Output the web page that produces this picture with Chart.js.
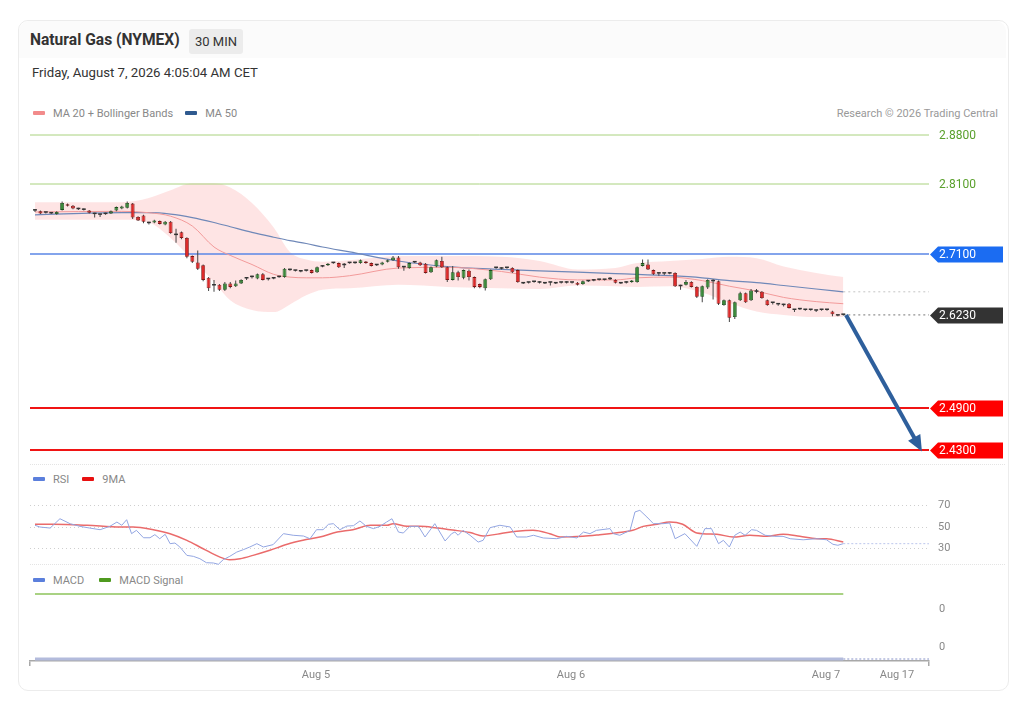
<!DOCTYPE html>
<html><head><meta charset="utf-8">
<title>Natural Gas (NYMEX)</title>
<script src="https://cdn.jsdelivr.net/npm/chart.js@4.4.1/dist/chart.umd.min.js"></script>
<style>
html,body{margin:0;padding:0;background:#fff;width:1027px;height:709px;overflow:hidden;font-family:Roboto,"Liberation Sans",Arial,sans-serif;}
.card{position:absolute;left:18px;top:20px;width:989px;height:669px;border:1px solid #ececec;border-radius:10px;}
.hdr{position:absolute;left:19px;top:21px;width:987px;height:37px;background:#fbfbfb;border-radius:10px 10px 0 0;}
.title{position:absolute;left:30px;top:31px;font-size:15.6px;font-weight:bold;color:#333;white-space:nowrap;}
.badge{position:absolute;left:189px;top:29px;width:54px;height:25px;background:#ececec;border-radius:3px;font-size:13px;color:#333;line-height:25px;text-align:center;}
.date{position:absolute;left:32px;top:65px;font-size:13.2px;color:#333;white-space:nowrap;}
.leg{position:absolute;font-size:11px;color:#888;white-space:nowrap;line-height:13px;}
.sw{display:inline-block;width:12px;height:4px;border-radius:1px;vertical-align:middle;margin-right:8px;position:relative;top:-1px}
canvas{position:absolute;left:0;}
.sep{position:absolute;left:30px;width:975px;border-top:1px dotted #e4e4e4;}
</style></head>
<body>
<div class="card"></div>
<div class="hdr"></div>
<div class="title">Natural Gas (NYMEX)</div>
<div class="badge">30 MIN</div>
<div class="date">Friday, August 7, 2026 4:05:04 AM CET</div>
<div class="leg" style="left:33px;top:107px"><span class="sw" style="background:#f28b8b"></span>MA 20 + Bollinger Bands<span class="sw" style="background:#2f5a8f;margin-left:12px"></span>MA 50</div>
<div class="leg" style="right:29px;top:107px;color:#999">Research © 2026 Trading Central</div>
<div class="sep" style="top:464px"></div>
<div class="leg" style="left:33px;top:473px"><span class="sw" style="background:#5b7fdc"></span>RSI<span class="sw" style="background:#e81010;margin-left:13px"></span>9MA</div>
<div class="sep" style="top:564px"></div>
<div class="leg" style="left:33px;top:574px"><span class="sw" style="background:#5b7fdc"></span>MACD<span class="sw" style="background:#4f9a1f;margin-left:15px"></span>MACD Signal</div>
<canvas id="cMain" width="1027" height="340" style="top:125px"></canvas>
<canvas id="cRsi" width="1027" height="87" style="top:485.5px"></canvas>
<canvas id="cMacd" width="1027" height="106" style="top:577px"></canvas>
<script>
// ---------- DATA ----------
const opens = [
2.772,2.771,2.769,2.769,2.767,2.773,2.781,2.779,2.775,2.774,
2.772,2.768,2.766,2.767,2.768,2.772,2.775,2.776,2.782,2.763,
2.765,2.755,2.755,2.757,2.752,2.756,2.738,2.741,2.733,2.707,
2.698,2.694,2.676,2.666,2.666,2.659,2.668,2.664,2.668,2.676,
2.677,2.675,2.681,2.674,2.675,2.677,2.677,2.688,2.686,2.686,
2.686,2.687,2.684,2.692,2.694,2.697,2.697,2.694,2.697,2.697,
2.697,2.699,2.697,2.694,2.695,2.699,2.701,2.705,2.691,2.690,
2.698,2.698,2.696,2.684,2.692,2.700,2.691,2.673,2.684,2.676,
2.686,2.677,2.667,2.661,2.674,2.690,2.690,2.690,2.690,2.687,
2.669,2.669,2.670,2.670,2.669,2.669,2.668,2.669,2.669,2.669,
2.669,2.667,2.671,2.672,2.673,2.673,2.674,2.673,2.668,2.669,
2.670,2.670,2.693,2.695,2.687,2.682,2.682,2.682,2.683,2.665,
2.666,2.670,2.663,2.649,2.662,2.672,2.671,2.637,2.644,2.620,
2.644,2.654,2.644,2.656,2.656,2.644,2.640,2.639,2.637,2.639,
2.630,2.631,2.630,2.630,2.629,2.630,2.630,2.628,2.622,2.623];
const highs = [
2.774,2.772,2.770,2.770,2.771,2.785,2.782,2.780,2.776,2.775,
2.773,2.769,2.767,2.769,2.772,2.778,2.779,2.785,2.783,2.764,
2.766,2.756,2.759,2.758,2.757,2.757,2.746,2.742,2.734,2.708,
2.715,2.695,2.677,2.673,2.667,2.670,2.670,2.672,2.674,2.677,
2.679,2.682,2.683,2.675,2.677,2.678,2.690,2.689,2.687,2.687,
2.687,2.688,2.692,2.694,2.697,2.698,2.698,2.697,2.698,2.699,
2.702,2.700,2.698,2.695,2.699,2.702,2.707,2.707,2.693,2.698,
2.699,2.699,2.697,2.692,2.702,2.706,2.692,2.693,2.686,2.688,
2.688,2.678,2.668,2.675,2.688,2.691,2.691,2.691,2.691,2.688,
2.670,2.670,2.671,2.671,2.670,2.670,2.670,2.670,2.671,2.670,
2.670,2.672,2.672,2.674,2.674,2.674,2.677,2.674,2.669,2.671,
2.673,2.692,2.702,2.702,2.688,2.684,2.683,2.684,2.684,2.666,
2.673,2.671,2.664,2.665,2.674,2.674,2.672,2.645,2.645,2.642,
2.656,2.655,2.660,2.660,2.657,2.645,2.641,2.640,2.639,2.640,
2.631,2.632,2.631,2.631,2.630,2.631,2.631,2.629,2.623,2.624];
const lows = [
2.770,2.767,2.768,2.767,2.766,2.772,2.778,2.774,2.773,2.772,
2.768,2.762,2.763,2.766,2.767,2.771,2.774,2.775,2.760,2.757,
2.754,2.752,2.754,2.752,2.751,2.739,2.726,2.731,2.704,2.697,
2.687,2.671,2.657,2.656,2.657,2.657,2.661,2.663,2.667,2.673,
2.675,2.674,2.672,2.672,2.674,2.676,2.676,2.686,2.685,2.684,
2.685,2.682,2.683,2.691,2.693,2.696,2.690,2.690,2.696,2.696,
2.696,2.696,2.692,2.693,2.694,2.698,2.700,2.689,2.686,2.689,
2.697,2.693,2.682,2.683,2.691,2.690,2.670,2.672,2.672,2.674,
2.672,2.661,2.661,2.658,2.673,2.689,2.688,2.689,2.683,2.669,
2.667,2.668,2.669,2.668,2.667,2.665,2.667,2.668,2.668,2.668,
2.665,2.666,2.670,2.671,2.672,2.672,2.673,2.668,2.667,2.668,
2.669,2.669,2.692,2.687,2.680,2.679,2.680,2.681,2.663,2.659,
2.665,2.662,2.647,2.641,2.660,2.645,2.637,2.636,2.613,2.617,
2.643,2.640,2.643,2.654,2.646,2.636,2.638,2.636,2.635,2.632,
2.627,2.630,2.629,2.629,2.627,2.629,2.629,2.621,2.621,2.622];
const closes = [
2.772,2.768,2.769,2.768,2.770,2.783,2.779,2.775,2.774,2.773,
2.769,2.767,2.766,2.768,2.771,2.777,2.778,2.783,2.762,2.758,
2.756,2.754,2.758,2.753,2.756,2.740,2.737,2.733,2.706,2.699,
2.689,2.673,2.661,2.665,2.659,2.668,2.663,2.668,2.673,2.675,
2.677,2.681,2.673,2.674,2.676,2.677,2.689,2.687,2.686,2.685,
2.686,2.683,2.691,2.693,2.696,2.697,2.691,2.694,2.697,2.698,
2.701,2.697,2.693,2.694,2.698,2.701,2.705,2.691,2.691,2.697,
2.698,2.694,2.683,2.691,2.701,2.691,2.673,2.684,2.677,2.687,
2.677,2.663,2.663,2.674,2.687,2.690,2.689,2.690,2.684,2.670,
2.668,2.669,2.670,2.669,2.668,2.669,2.669,2.669,2.670,2.669,
2.666,2.671,2.671,2.673,2.673,2.673,2.674,2.669,2.668,2.670,
2.672,2.691,2.697,2.688,2.681,2.682,2.682,2.683,2.664,2.664,
2.670,2.663,2.649,2.664,2.673,2.671,2.639,2.644,2.619,2.641,
2.654,2.641,2.658,2.656,2.647,2.637,2.640,2.638,2.637,2.633,
2.630,2.631,2.630,2.630,2.629,2.630,2.630,2.624,2.622,2.623];

// indicator samples (candle index positions)
const bandIdx  = [0,16,21,25,29,33,36,40,44,47,50,53,58,67,76,86,93,100,107,111,117,123,128,133,138,144,149];
const bbUpper  = [2.784,2.784,2.790,2.801,2.811,2.811,2.805,2.783,2.748,2.713,2.702,2.699,2.701,2.707,2.707,2.706,2.700,2.688,2.690,2.697,2.700,2.703,2.706,2.704,2.692,2.683,2.677];
const bbLower  = [2.759,2.759,2.755,2.733,2.702,2.670,2.644,2.630,2.627,2.638,2.651,2.659,2.661,2.666,2.663,2.661,2.660,2.665,2.664,2.663,2.664,2.655,2.640,2.628,2.623,2.620,2.620];
const ma20     = [2.770,2.771,2.769,2.764,2.750,2.720,2.708,2.695,2.681,2.677,2.676,2.676,2.679,2.690,2.691,2.685,2.677,2.673,2.673,2.676,2.677,2.672,2.664,2.657,2.648,2.642,2.639];
const ma50     = [2.766,2.769,2.769,2.767,2.762,2.755,2.749,2.741,2.734,2.729,2.725,2.720,2.713,2.700,2.692,2.688,2.686,2.684,2.682,2.681,2.679,2.676,2.672,2.669,2.665,2.660,2.656];

const rsiIdx = [0,0.9,2.8,4.6,6.5,8.3,10.1,12,13.8,15.1,16,16.9,17.8,18.7,20,21.2,22.1,23,24,24.9,25.8,26.7,28,29.2,30.4,31.6,32.9,33.8,34.7,35.9,37.2,38.4,39.6,40.9,42.1,43.9,45.8,47.6,49.5,50.7,51.9,53.1,54.1,55,56.2,57.5,58.7,59.9,61.1,62.4,63.6,64.8,65.8,67,67.9,69.1,70.7,71.9,73.7,75.6,76.8,77.4,78,78.9,80.2,81.7,82.6,83.9,85.7,87.6,88.8,90.6,91.9,93.7,96.2,98,99.9,101.1,102.3,103.5,106,106.6,107.8,109.7,110.6,111.5,112.8,114,115.8,117,118,119.8,122,123.5,124.7,126,126.9,128,129,130,130.9,132.1,133,134.6,136.4,137.9,139.2,141.6,144.1,145.9,147.1,148,149];
const rsiVals = [51.6,50,49,57.7,53,50.6,49,47.5,50.6,54.6,51.6,56.8,43.8,46.9,40,40,42.9,39.1,43.2,34.5,35.1,31.4,23.6,22.7,20.5,16.8,16.5,15.3,19.6,22.7,26.7,28.9,31.4,34.5,31.4,33.6,43.8,42.3,41.6,39.1,47.5,47.5,52.5,53.1,47.5,50.9,51.2,55.6,50.6,48.5,50.6,54.6,57.7,45.3,44.4,50.6,50.6,40.7,53.1,37,43.8,45.3,42.3,46.9,42.3,36,37.6,49.4,51.6,50,40.7,40.7,42.3,39.8,39.1,41.3,39.8,45.3,43.8,46.9,48.5,43.8,42.3,46.9,64,65.5,59.3,53.1,53.1,53.7,39.1,43.8,32,48.5,48.5,34.5,37.6,31.4,42.3,45.3,42.3,47.5,46.9,42.3,41.3,41.3,39.1,38.1,39.1,38.1,33.9,33,34.5];
const rsiMaIdx = [0,3.3,9.6,15.7,18.1,21.8,24.9,28,31,34.1,35.9,37.8,40.2,43.3,46.5,49.4,52.5,55.7,58.6,61.8,64.9,66,68.6,71,74.1,77,80.2,82.6,85.7,88.8,91.8,94.9,96.8,101,104.1,107.3,110.2,112.1,114.7,117,119.4,122,125.7,128.7,131.8,134.9,137.9,141,144.1,145.9,149];
const rsiMaVals = [52.5,52.5,51.6,50,50,47.5,43.8,37.6,29.8,22,19.6,20.5,23.6,28.3,33.9,37.6,40.7,45.3,47.5,51.6,51.6,53.1,50.6,50.6,49.1,47.2,44.8,41.6,43.8,46,46.9,43.8,40.7,41.3,42.8,44.7,46.9,50.6,52.5,54.6,52.5,44.4,43.2,40.7,42.3,41.3,43.2,41.3,39.1,39.1,36];
const rsiTicks = [30,50,70];

const macdIdx = [0,149];
const macdVals = [0.0000,0.0000];
const macdSignalVals = [0.0065,0.0065];
const macdTicks = [0.0050,0.0012];

const levels = [2.88,2.81,2.71,2.623,2.49,2.43];
const arrowFrom = {x:149.5, y:2.623};
const arrowTo   = {x:163.5, y:2.428};

const xTickVals = [51.8,98.8,145.8,158.9];
const xTickLabels = ['Aug 5','Aug 6','Aug 7','Aug 17'];
const xMin = -0.92, xMax = 164.8;

// ---------- STYLES ----------
Chart.defaults.font.family = "Roboto, 'Liberation Sans', Arial, sans-serif";
Chart.defaults.color = '#888';
const levelStyle = [
  {line:'#a9d27e', w:1, text:'#5aa02c'},
  {line:'#a9d27e', w:1, text:'#5aa02c'},
  {line:'#5a86e6', w:1.5, tag:'#1b6cf2'},
  {line:'#777777', w:1, tag:'#333333', dotted:true},
  {line:'#f01414', w:2, tag:'#ff0000'},
  {line:'#f01414', w:2, tag:'#ff0000'}
];
const pts = (xs, ys) => xs.map((x,i)=>({x, y: ys[i]}));
const idx = opens.map((_,i)=>i);
const last = idx.length-1;
const isDoji = i => Math.abs(opens[i]-closes[i]) < 0.0012;
const bodyColor = i => isDoji(i) ? '#333' : (closes[i] > opens[i] ? '#3b8a3b' : '#dd2a2a');
const bodyBorder = i => isDoji(i) ? '#333' : (closes[i] > opens[i] ? '#1e4f1e' : '#7d1717');
const tickFont = {size:11, lineHeight:'12px'};

const levelSets = levels.map((v,i)=>{
  const st = levelStyle[i];
  return {type:'line', data: st.dotted ? [{x:last,y:v},{x:xMax,y:v}] : [{x:xMin,y:v},{x:xMax,y:v}],
    borderColor: st.line, borderWidth: st.w, borderDash: st.dotted ? [2,3] : [], pointRadius:0, order: 20};
});

const tagPlugin = {
  id:'tags',
  afterDraw(chart){
    const {ctx, chartArea} = chart; const y = chart.scales.y;
    ctx.save();
    ctx.font = "12px Roboto, 'Liberation Sans', Arial, sans-serif";
    ctx.textBaseline = 'middle';
    levels.forEach((v,i)=>{
      const st = levelStyle[i]; const py = Math.round(y.getPixelForValue(v)) + 0.5;
      const x0 = chartArea.right + 1;
      if (st.tag) {
        ctx.fillStyle = st.tag;
        ctx.beginPath();
        ctx.moveTo(x0, py); ctx.lineTo(x0+8, py-8); ctx.lineTo(x0+73, py-8);
        ctx.lineTo(x0+73, py+8); ctx.lineTo(x0+8, py+8); ctx.closePath(); ctx.fill();
        ctx.fillStyle = '#fff';
      } else {
        ctx.fillStyle = st.text;
      }
      ctx.fillText(v.toFixed(4), chartArea.right + 10, py);
    });
    ctx.restore();
  }
};
const arrowPlugin = {
  id:'arrowHead',
  afterDatasetsDraw(chart){
    const {ctx} = chart; const xs = chart.scales.x, ys = chart.scales.y;
    const x1 = xs.getPixelForValue(arrowFrom.x), y1 = ys.getPixelForValue(arrowFrom.y);
    const x2 = xs.getPixelForValue(arrowTo.x), y2 = ys.getPixelForValue(arrowTo.y);
    const a = Math.atan2(y2-y1, x2-x1), L = 16, W = 7;
    ctx.save(); ctx.fillStyle = '#2e5f9c';
    ctx.beginPath(); ctx.moveTo(x2, y2);
    ctx.lineTo(x2 - L*Math.cos(a) + W*Math.sin(a), y2 - L*Math.sin(a) - W*Math.cos(a));
    ctx.lineTo(x2 - L*Math.cos(a) - W*Math.sin(a), y2 - L*Math.sin(a) + W*Math.cos(a));
    ctx.closePath(); ctx.fill(); ctx.restore();
  }
};

new Chart(document.getElementById('cMain'), {
  type:'line',
  data:{datasets:[
    {type:'line', data: pts(bandIdx, bbUpper), borderWidth:0, borderColor:'rgba(0,0,0,0)', pointRadius:0, fill:'+1', backgroundColor:'rgba(250,120,120,0.2)', tension:0.4, cubicInterpolationMode:'monotone', order:30},
    {type:'line', data: pts(bandIdx, bbLower), borderWidth:0, borderColor:'rgba(0,0,0,0)', pointRadius:0, fill:false, tension:0.4, cubicInterpolationMode:'monotone', order:30},
    ...levelSets,
    {type:'line', data:[{x:last,y:ma50[ma50.length-1]},{x:xMax,y:ma50[ma50.length-1]}], borderColor:'#c4c4c4', borderWidth:1, borderDash:[2,3], pointRadius:0, order:20},
    {type:'line', data: pts(bandIdx, ma20), borderColor:'#f29a9a', borderWidth:1, pointRadius:0, tension:0.4, cubicInterpolationMode:'monotone', order:8},
    {type:'line', data: pts(bandIdx, ma50), borderColor:'#6f88b8', borderWidth:1.2, pointRadius:0, tension:0.4, cubicInterpolationMode:'monotone', order:8},
    {type:'bar', data: idx.map(i=>({x:i, y:[lows[i], highs[i]]})), backgroundColor:'#444', grouped:false, maxBarThickness:1, borderWidth:0, order:4},
    {type:'bar', data: idx.map(i=>({x:i, y:[opens[i], closes[i]]})), backgroundColor: c=>bodyColor(c.dataIndex), borderColor: c=>bodyBorder(c.dataIndex), borderWidth: c=>isDoji(c.dataIndex)?0:0.8, borderSkipped:false, grouped:false, maxBarThickness:4, minBarLength:1.5, order:3},
    {type:'line', data:[arrowFrom, {x:arrowTo.x - 0.8, y:arrowTo.y + 0.011}], borderColor:'#2e5f9c', borderWidth:4, pointRadius:0, order:1}
  ]},
  options:{
    responsive:false, animation:false, events:[],
    layout:{padding:{left:30,right:98,top:0,bottom:0}},
    plugins:{legend:{display:false}, tooltip:{enabled:false}},
    scales:{
      x:{type:'linear', min:xMin, max:xMax, display:false, offset:false},
      y:{type:'linear', min:2.4086, max:2.8943, display:false}
    }
  },
  plugins:[tagPlugin, arrowPlugin]
});

new Chart(document.getElementById('cRsi'), {
  type:'line',
  data:{datasets:[
    {data: pts(rsiIdx, rsiVals), borderColor:'#93a6e2', borderWidth:1, pointRadius:0, tension:0},
    {data: pts(rsiMaIdx, rsiMaVals), borderColor:'#ea6b6b', borderWidth:1.5, pointRadius:0, tension:0.4, cubicInterpolationMode:'monotone'},
    {data: [{x:last, y:rsiVals[rsiVals.length-1]},{x:xMax, y:rsiVals[rsiVals.length-1]}], borderColor:'#bcc6ec', borderWidth:1, borderDash:[2,2], pointRadius:0}
  ]},
  options:{
    responsive:false, animation:false, events:[],
    layout:{padding:{left:30,right:0,top:0,bottom:0}, autoPadding:false},
    plugins:{legend:{display:false}, tooltip:{enabled:false}},
    scales:{
      x:{type:'linear', min:xMin, max:xMax, display:false},
      y:{position:'right', min:12.79, max:82.56,
         afterFit(s){ s.width = 98; },
         afterBuildTicks(s){ s.ticks = rsiTicks.map(v=>({value:v})); },
         ticks:{color:'#888', font:tickFont, padding:0, callback:v=>String(v)},
         grid:{color:'#cfcfcf', lineWidth:1, drawTicks:true, tickLength:9, tickColor:'rgba(0,0,0,0)'},
         border:{display:false, dash:[1,3]}}
    }
  }
});

new Chart(document.getElementById('cMacd'), {
  type:'line',
  data:{datasets:[
    {data: pts(macdIdx, macdSignalVals), borderColor:'#8cc35a', borderWidth:1.5, pointRadius:0},
    {data: pts(macdIdx, macdVals), borderColor:'#b3bbdc', borderWidth:3, pointRadius:0},
    {data: [{x:last, y:macdVals[macdVals.length-1]},{x:xMax, y:macdVals[macdVals.length-1]}], borderColor:'#c3c9e4', borderWidth:2, borderDash:[2,2], pointRadius:0}
  ]},
  options:{
    responsive:false, animation:false, events:[],
    layout:{padding:{left:30,right:0,top:0,bottom:0}, autoPadding:false},
    plugins:{legend:{display:false}, tooltip:{enabled:false}},
    scales:{
      x:{type:'linear', min:xMin, max:xMax,
         afterFit(s){ s.height = 22; },
         afterBuildTicks(s){ s.ticks = [xMin, ...xTickVals, xMax].map(v=>({value:v})); },
         ticks:{color:'#888', font:{size:11}, padding:3, autoSkip:false, maxRotation:0,
                callback:(v,i)=> (i===0 || i===xTickVals.length+1) ? '' : xTickLabels[i-1]},
         grid:{drawOnChartArea:false, tickLength:5, lineWidth:1.5,
               color: c => (c.index===0 || c.index===xTickVals.length+1) ? '#a8a8a8' : 'rgba(0,0,0,0)'},
         border:{display:true, color:'#a8a8a8', width:1.5}},
      y:{position:'right', min:-0.0002, max:0.0076,
         afterFit(s){ s.width = 98; },
         afterBuildTicks(s){ s.ticks = macdTicks.map(v=>({value:v})); },
         ticks:{color:'#888', font:tickFont, padding:0, callback:v=>Number(v).toFixed(0)},
         grid:{display:false, drawTicks:true, tickLength:10},
         border:{display:false}}
    }
  }
});
</script>
</body></html>
